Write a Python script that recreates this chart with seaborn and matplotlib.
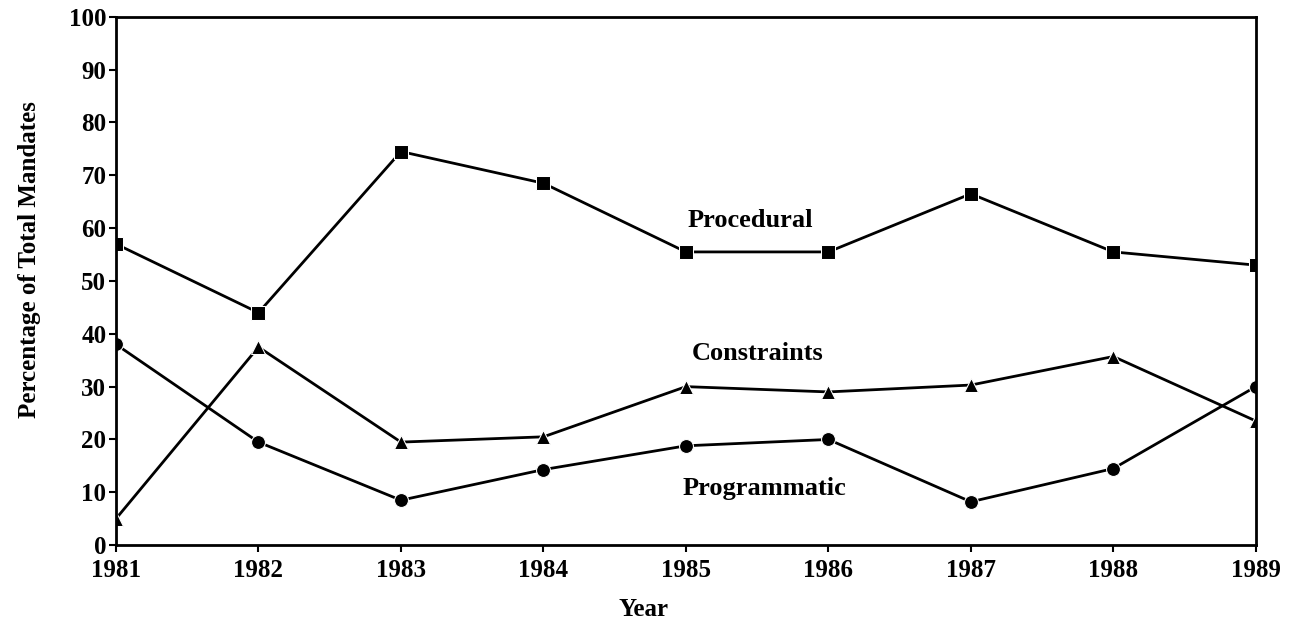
import pandas as pd
import numpy as np
import matplotlib
matplotlib.use('Agg')
import matplotlib.pyplot as plt
import seaborn as sns

years = [1981, 1982, 1983, 1984, 1985, 1986, 1987, 1988, 1989]
procedural = [57, 44, 74.5, 68.5, 55.5, 55.5, 66.5, 55.5, 53]
constraints = [5, 37.5, 19.5, 20.5, 30, 29, 30.3, 35.7, 23.5]
programmatic = [38, 19.5, 8.5, 14.3, 18.8, 20, 8.2, 14.5, 30]

series_names = ['Procedural', 'Constraints', 'Programmatic']
label_pos = {'Procedural': (1985.45, 61.5),
             'Constraints': (1985.5, 36.2),
             'Programmatic': (1985.55, 10.8)}

df = pd.DataFrame({
    'Year': years * 3,
    'Value': procedural + constraints + programmatic,
    'Series': [s for s in series_names for _ in years],
})

sns.set_style('ticks')
plt.rcParams['font.family'] = ['Liberation Serif', 'DejaVu Serif']
plt.rcParams['font.weight'] = 'bold'
plt.rcParams['text.color'] = 'black'
plt.rcParams['axes.labelcolor'] = 'black'
plt.rcParams['xtick.color'] = 'black'
plt.rcParams['ytick.color'] = 'black'

fig = plt.figure(figsize=(12.96, 6.23), dpi=100)
ax = fig.add_axes([0.0895, 0.125, 0.8795, 0.848])

sns.lineplot(data=df, x='Year', y='Value', style='Series', hue='Series',
             palette=['black'] * 3, markers={'Procedural': 's', 'Constraints': '^', 'Programmatic': 'o'},
             dashes=False, markersize=10, linewidth=2, legend=False, ax=ax)

for name, (x, y) in label_pos.items():
    ax.text(x, y, name, ha='center', va='center', fontsize=19, fontweight='bold')

ax.set_xlim(1981, 1989)
ax.set_ylim(0, 100)
ax.set_xticks(years)
ax.set_yticks(range(0, 101, 10))
ax.tick_params(axis='both', labelsize=18, direction='out', length=5, width=1.5)
ax.tick_params(axis='x', pad=5)
ax.tick_params(axis='y', pad=2)
for lbl in ax.get_xticklabels() + ax.get_yticklabels():
    lbl.set_fontweight('bold')
for sp in ax.spines.values():
    sp.set_linewidth(2)
    sp.set_color('black')
ax.set_xlabel('Year', fontsize=18, fontweight='bold')
ax.set_ylabel('Percentage of Total Mandates', fontsize=18, fontweight='bold')
ax.xaxis.set_label_coords(0.463, -0.10)
ax.yaxis.set_label_coords(-0.066, 0.54)

plt.savefig('out.png', dpi=100)
plt.close()
